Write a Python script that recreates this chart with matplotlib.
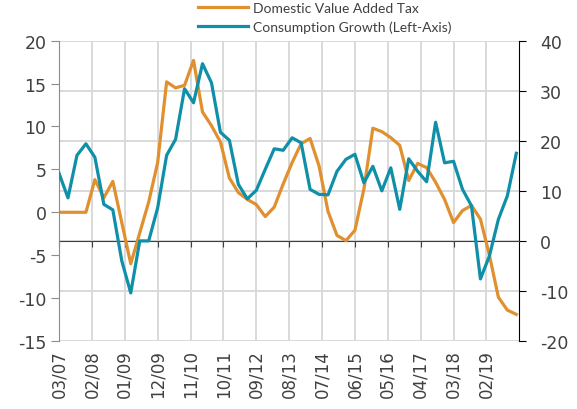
import matplotlib.pyplot as plt
import numpy as np

# quarterly observations, months counted from 03/07
months = np.arange(0, 154, 3)

vat = [0, 0, 0, 0, 3.8, 1.7, 3.6, -1.2, -6.0, -2.4,
       1.2, 5.8, 15.2, 14.5, 14.8, 17.7, 11.7, 10.1, 8.2, 4.0,
       2.3, 1.5, 0.9, -0.5, 0.6, 3.3, 5.8, 8.0, 8.6, 5.4,
       0.1, -2.7, -3.3, -2.1, 2.7, 9.8, 9.4, 8.7, 7.8, 3.7,
       5.7, 5.2, 3.5, 1.5, -1.2, 0.2, 0.8, -0.8, -5.0, -9.9,
       -11.4, -11.9]

consumption = [13.5, 8.6, 17.1, 19.4, 16.7, 7.3, 6.2, -4.0, -10.4, 0,
               0, 6.6, 17.1, 20.3, 30.4, 27.6, 35.4, 31.6, 21.7, 20.1,
               11.3, 8.4, 10.1, 14.3, 18.4, 18.1, 20.6, 19.6, 10.3, 9.3,
               9.2, 13.9, 16.3, 17.3, 11.6, 14.9, 10.0, 14.6, 6.3, 16.4,
               13.9, 11.8, 23.7, 15.6, 15.9, 10.3, 7.0, -7.6, -3.0, 4.3,
               9.0, 17.5]

tick_months = np.arange(0, 144, 11)
tick_labels = ["03/07", "02/08", "01/09", "12/09", "11/10", "10/11", "09/12",
               "08/13", "07/14", "06/15", "05/16", "04/17", "03/18", "02/19"]

left_ticks = np.arange(-15, 21, 5)
right_ticks = np.arange(-20, 41, 10)

plt.rcParams['font.family'] = ['DejaVu Sans']
plt.rcParams['axes.unicode_minus'] = False

text_col = '#404040'
grid_col = '#d9d9d9'
orange = '#E0902F'
blue = '#0F8FA8'

fig = plt.figure(figsize=(5.77, 4.10), dpi=100)
ax = fig.add_axes([0.1023, 0.1659, 0.7977, 0.7324])

# left-hand scale for VAT, consumption on top of it
axl = ax.twinx()
axb = ax.twinx()

# base axes: right-hand scale, grid and category axis
ax.set_xlim(0, 154)
ax.set_ylim(-20, 40)
ax.yaxis.tick_right()
ax.set_yticks(right_ticks)
ax.set_xticks(tick_months)
ax.grid(True, color=grid_col, lw=1.4)
ax.set_axisbelow(True)
ax.spines['top'].set_visible(False)
ax.spines['left'].set_visible(False)
ax.spines['right'].set_color('black')
ax.spines['bottom'].set_position(('data', 0))
ax.spines['bottom'].set_color(text_col)
ax.tick_params(axis='x', direction='out', length=4, color=text_col,
               labelbottom=False)
ax.tick_params(axis='y', direction='out', length=5, color='black',
               labelsize=12.5, labelcolor=text_col, pad=10)

sec = ax.secondary_xaxis('bottom')
sec.set_xticks(tick_months, labels=tick_labels, rotation=90)
sec.spines['bottom'].set_visible(False)
sec.tick_params(length=0, pad=6, labelsize=12, labelcolor=text_col)

axl.set_ylim(-15, 20)
axl.yaxis.tick_left()
axl.set_yticks(left_ticks)
for s in ['top', 'right', 'bottom']:
    axl.spines[s].set_visible(False)
axl.spines['left'].set_color('#8c8c8c')
axl.tick_params(axis='y', direction='out', length=6, color='#8c8c8c',
                labelsize=12.5, labelcolor=text_col, pad=3)
l1, = axl.plot(months, vat, color=orange, lw=2.3,
               label='Domestic Value Added Tax')

axb.set_ylim(-20, 40)
axb.axis('off')
l2, = axb.plot(months, consumption, color=blue, lw=2.3,
               label='Consumption Growth (Left-Axis)')

fig.legend(handles=[l1, l2], loc='upper left', bbox_to_anchor=(0.343, 0.992),
           frameon=False, prop={'family': 'Lato', 'size': 10},
           labelcolor=text_col, handlelength=3.6, handletextpad=0.4,
           labelspacing=0.45, borderpad=0, borderaxespad=0)

fig.savefig('out.png', dpi=100)
